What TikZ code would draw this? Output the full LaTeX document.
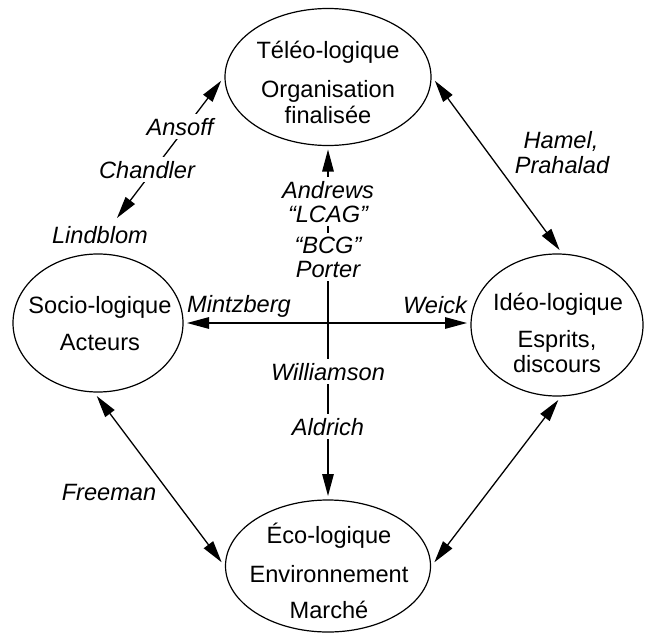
\documentclass[tikz,border=0pt]{standalone}
\usepackage{fontspec}
\setmainfont{Liberation Sans}
\usetikzlibrary{shapes.geometric,arrows.meta}
\begin{document}
\begin{tikzpicture}[x=1pt,y=-1pt,
  pole/.style={ellipse, draw, line width=1.2pt, inner sep=0pt, outer sep=4pt},
  head/.style={anchor=base, font=\fontsize{23.6pt}{28pt}\selectfont, inner sep=0pt},
  author/.style={anchor=base, font=\fontsize{23.6pt}{28pt}\selectfont\itshape, inner xsep=3pt, inner ysep=4pt},
  onlink/.style={author, fill=white},
  link/.style={line width=1.3pt, >={Triangle[length=22pt,width=11.5pt]}, <->}]
\useasboundingbox (0,0) rectangle (650,634);

% the four poles
\node[pole, minimum width=206pt, minimum height=137pt] (tel)  at (328,77)  {};
\node[pole, minimum width=170pt, minimum height=138pt] (soc)  at (98,323)  {};
\node[pole, minimum width=172pt, minimum height=142pt] (ideo) at (557,325) {};
\node[pole, minimum width=205pt, minimum height=132pt] (eco)  at (328,566) {};

% texts inside the poles
\node[head] (tel-1) at (328,59)  {Téléo-logique};
\node[head] (tel-2) at (328,97)  {Organisation};
\node[head] (tel-3) at (328,123) {finalisée};
\node[head] (soc-1) at (100,313) {Socio-logique};
\node[head] (soc-2) at (100,350) {Acteurs};
\node[head] (ideo-1) at (558,310) {Idéo-logique};
\node[head] (ideo-2) at (557,347) {Esprits,};
\node[head] (ideo-3) at (557,372) {discours};
\node[head] (eco-1) at (329,543) {Éco-logique};
\node[head] (eco-2) at (329,582) {Environnement};
\node[head] (eco-3) at (329,618) {Marché};

% free end of the link towards the socio-logical pole
\coordinate (lind-tip) at (117,218);

% links between the poles
\draw[link] (tel.south) -- (eco.north);
\draw[link] (soc.east) -- (soc.east -| ideo.west);
\draw[link] (tel.182) -- (lind-tip);
\draw[link] (tel.358) -- (ideo.88);
\draw[link] (soc.269) -- (eco.178);
\draw[link] (ideo.271) -- (eco.2);

% authors
\node[onlink] (ansoff)   at (180,135) {Ansoff};
\node[onlink] (chandler) at (147,178) {Chandler};
\node[author] (lind)     at (100,243) {Lindblom};
\node[author] (hamel)    at (561,148) {Hamel,};
\node[author] (prahalad) at (562,173) {Prahalad};
\node[onlink] (andrews)  at (328,198) {Andrews};
\node[onlink] (lcag)     at (328,222) {“LCAG”};
\node[onlink] (bcg)      at (328,253) {“BCG”};
\node[onlink] (porter)   at (328,277) {Porter};
\node[author] (mintz)    at (239,312) {Mintzberg};
\node[author] (weick)    at (435,313) {Weick};
\node[onlink] (william)  at (328,380) {Williamson};
\node[onlink] (aldrich)  at (328,435) {Aldrich};
\node[author] (freeman)  at (109,500) {Freeman};
\end{tikzpicture}
\end{document}
